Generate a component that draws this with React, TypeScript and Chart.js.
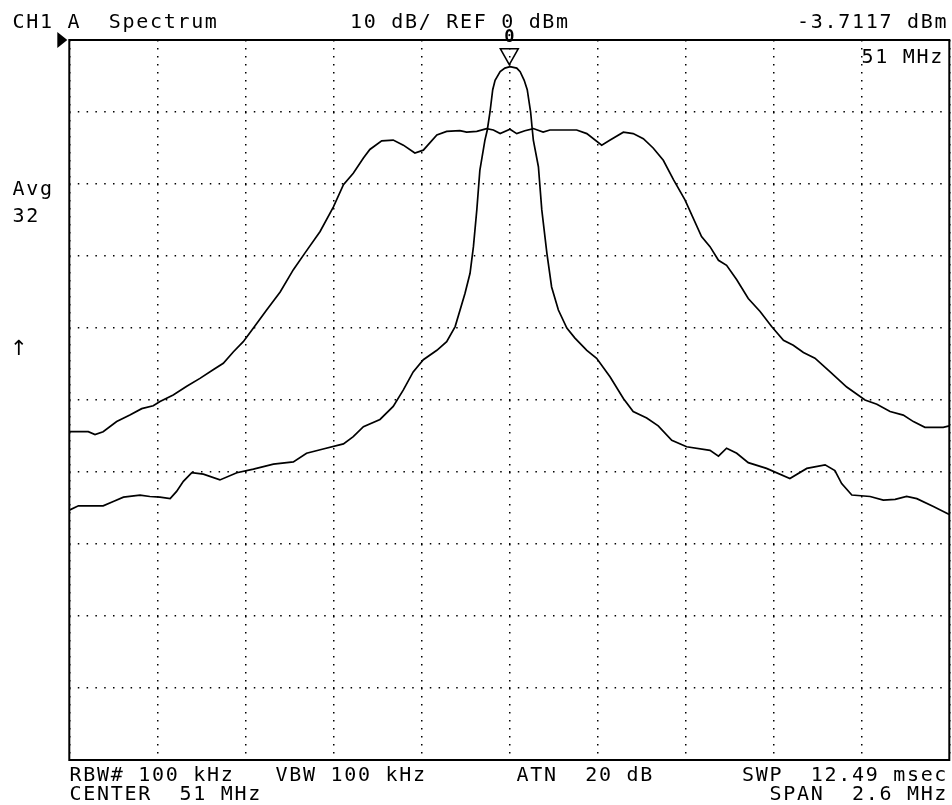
import React, { useEffect, useRef } from "react";
import { Chart, registerables } from "chart.js";

Chart.register(...registerables);

// ---- Instrument settings ----
const CENTER_MHZ = 51;
const SPAN_MHZ = 2.6;
const REF_DBM = 0;
const DB_PER_DIV = 10;
const DIVISIONS = 10;

// ---- Marker ----
const MARKER_MHZ = 51;
const MARKER_DBM = -3.7117;

// ---- Trace 1: wide (modulated) spectrum ----
const wideFreq = [
  49.7, 49.756, 49.776, 49.8, 49.84, 49.879, 49.914, 49.948, 49.968, 50.007,
  50.047, 50.086, 50.125, 50.155, 50.185, 50.214, 50.244, 50.283, 50.323, 50.362,
  50.396, 50.441, 50.48, 50.51, 50.539, 50.569, 50.588, 50.623, 50.657, 50.687,
  50.721, 50.746, 50.786, 50.815, 50.854, 50.874, 50.904, 50.933, 50.953, 50.973,
  51.002, 51.022, 51.046, 51.071, 51.1, 51.12, 51.199, 51.229, 51.273, 51.298,
  51.337, 51.366, 51.396, 51.425, 51.455, 51.485, 51.519, 51.568, 51.593, 51.618,
  51.642, 51.672, 51.706, 51.741, 51.775, 51.81, 51.839, 51.869, 51.903, 51.948,
  51.997, 52.051, 52.086, 52.125, 52.164, 52.194, 52.228, 52.282, 52.3,
];
const wideDbm = [
  -54.4, -54.4, -54.8, -54.4, -53.0, -52.1, -51.2, -50.8, -50.2, -49.3,
  -48.1, -47.0, -45.8, -44.9, -43.3, -41.9, -40.0, -37.5, -35.0, -31.9,
  -29.6, -26.6, -23.2, -20.1, -18.5, -16.4, -15.2, -14.0, -13.9, -14.6,
  -15.7, -15.3, -13.2, -12.7, -12.6, -12.8, -12.7, -12.3, -12.5, -13.0,
  -12.4, -13.0, -12.6, -12.3, -12.8, -12.5, -12.5, -13.0, -14.6, -13.9,
  -12.8, -13.0, -13.7, -15.0, -16.7, -19.4, -22.2, -27.3, -28.7, -30.6,
  -31.3, -33.3, -35.9, -37.7, -39.8, -41.7, -42.4, -43.4, -44.2, -46.1,
  -48.2, -50.0, -50.6, -51.6, -52.1, -53.0, -53.8, -53.8, -53.6,
];

// ---- Trace 2: narrow carrier ----
const narrowFreq = [
  49.7, 49.727, 49.8, 49.83, 49.86, 49.909, 49.938, 49.968, 49.998, 50.017,
  50.037, 50.062, 50.096, 50.145, 50.195, 50.244, 50.303, 50.362, 50.401, 50.45,
  50.51, 50.539, 50.569, 50.618, 50.657, 50.687, 50.716, 50.746, 50.786, 50.815,
  50.84, 50.869, 50.884, 50.894, 50.904, 50.913, 50.928, 50.935, 50.943, 50.951,
  50.958, 50.973, 50.987, 51.002, 51.022, 51.032, 51.044, 51.053, 51.063, 51.068,
  51.071, 51.086, 51.096, 51.111, 51.125, 51.145, 51.17, 51.194, 51.229, 51.258,
  51.298, 51.337, 51.366, 51.406, 51.44, 51.48, 51.524, 51.593, 51.618, 51.642,
  51.672, 51.706, 51.76, 51.829, 51.879, 51.933, 51.962, 51.982, 52.012, 52.066,
  52.105, 52.14, 52.174, 52.204, 52.253, 52.3,
];
const narrowDbm = [
  -65.3, -64.7, -64.7, -64.1, -63.5, -63.2, -63.4, -63.5, -63.7, -62.7,
  -61.3, -60.1, -60.3, -61.1, -60.1, -59.6, -58.9, -58.6, -57.4, -56.8,
  -56.1, -55.1, -53.7, -52.7, -50.9, -48.6, -46.1, -44.4, -43.1, -41.9,
  -39.8, -35.2, -32.4, -28.7, -23.6, -18.1, -13.9, -12.5, -10.0, -6.9,
  -5.6, -4.4, -3.9, -3.7, -3.9, -4.4, -5.6, -6.9, -10.0, -12.5,
  -13.9, -17.6, -23.6, -29.6, -34.3, -37.5, -40.0, -41.4, -43.1, -44.2,
  -46.8, -49.8, -51.6, -52.5, -53.6, -55.6, -56.5, -57.0, -57.8, -56.7,
  -57.4, -58.7, -59.5, -60.9, -59.5, -59.0, -59.8, -61.6, -63.2, -63.4,
  -63.9, -63.8, -63.4, -63.7, -64.8, -65.9,
];

// ---- Annotation texts ----
const headerLeft = "CH1 A  Spectrum";
const headerMid = "10 dB/ REF 0 dBm";
const headerRight = "-3.7117 dBm";
const markerFreqText = "51 MHz";
const avgLabel = "Avg";
const avgCount = "32";
const arrowLabel = "\u2191";
const footerLine1Left = "RBW# 100 kHz   VBW 100 kHz";
const footerLine1Mid = "ATN  20 dB";
const footerLine1Right = "SWP  12.49 msec";
const footerLine2Left = "CENTER  51 MHz";
const footerLine2Right = "  SPAN  2.6 MHz";
const markerNumber = "0";

const FONT = '20px "DejaVu Sans Mono", "Liberation Mono", monospace';

const overlayPlugin = {
  id: "saOverlay",
  afterDraw(chart: any) {
    const ctx = chart.ctx as CanvasRenderingContext2D;
    const { left, top, right, bottom } = chart.chartArea;
    const xs = chart.scales.x;
    const ys = chart.scales.y;
    ctx.save();
    // frame
    ctx.strokeStyle = "#000";
    ctx.lineWidth = 2;
    ctx.setLineDash([]);
    ctx.strokeRect(left, top, right - left, bottom - top);

    // reference level pointer
    ctx.fillStyle = "#000";
    ctx.beginPath();
    ctx.moveTo(left - 12, top - 8);
    ctx.lineTo(left - 2, top);
    ctx.lineTo(left - 12, top + 8);
    ctx.closePath();
    ctx.fill();

    // marker triangle
    const mx = xs.getPixelForValue(MARKER_MHZ);
    const my = ys.getPixelForValue(MARKER_DBM);
    ctx.lineWidth = 1.5;
    ctx.beginPath();
    ctx.moveTo(mx - 9, my - 18);
    ctx.lineTo(mx + 9, my - 18);
    ctx.lineTo(mx, my - 2);
    ctx.closePath();
    ctx.stroke();

    // texts
    ctx.fillStyle = "#000";
    ctx.font = FONT;
    (ctx as any).letterSpacing = "1.7px";
    ctx.textAlign = "left";
    ctx.textBaseline = "alphabetic";
    ctx.fillText(headerLeft, 12.5, 28);
    ctx.fillText(headerMid, 350, 28);
    ctx.fillText(headerRight, 797, 28);
    ctx.fillText(markerFreqText, 861.5, 63);
    ctx.fillText(avgLabel, 12.5, 195);
    ctx.fillText(avgCount, 12.5, 221.5);
    ctx.fillText(footerLine1Left, 69.5, 780.5);
    ctx.fillText(footerLine1Mid, 516.5, 780.5);
    ctx.fillText(footerLine1Right, 742, 780.5);
    ctx.fillText(footerLine2Left, 69.5, 800);
    ctx.fillText(footerLine2Right, 742, 800);

    (ctx as any).letterSpacing = "0px";
    ctx.font = '21px "DejaVu Sans", sans-serif';
    ctx.fillText(arrowLabel, 10, 355);

    // marker number
    ctx.font = 'bold 17px "DejaVu Sans Mono", monospace';
    ctx.textAlign = "center";
    ctx.fillText(markerNumber, mx, 42);
    ctx.restore();
  },
};

export default function App() {
  const ref = useRef<HTMLCanvasElement | null>(null);

  useEffect(() => {
    document.body.style.margin = "0";
    const canvas = ref.current;
    if (!canvas) return;
    const xMin = CENTER_MHZ - SPAN_MHZ / 2;
    const xMax = CENTER_MHZ + SPAN_MHZ / 2;
    const yMax = REF_DBM;
    const yMin = REF_DBM - DB_PER_DIV * DIVISIONS;

    const chart = new Chart(canvas, {
      type: "line",
      data: {
        datasets: [
          {
            label: "Wide",
            data: wideFreq.map((f, i) => ({ x: f, y: wideDbm[i] })),
            borderColor: "#000",
            borderWidth: 1.7,
            pointRadius: 0,
            tension: 0,
            fill: false,
          },
          {
            label: "Narrow",
            data: narrowFreq.map((f, i) => ({ x: f, y: narrowDbm[i] })),
            borderColor: "#000",
            borderWidth: 1.7,
            pointRadius: 0,
            tension: 0,
            fill: false,
          },
        ],
      },
      options: {
        animation: false,
        responsive: false,
        maintainAspectRatio: false,
        devicePixelRatio: 1,
        layout: { padding: { left: 69.3, top: 40, right: 2.7, bottom: 45 } },
        plugins: {
          legend: { display: false },
          tooltip: { enabled: false },
          title: { display: false },
        },
        scales: {
          x: {
            type: "linear",
            min: xMin,
            max: xMax,
            afterBuildTicks: (scale: any) => {
              scale.ticks = Array.from({ length: DIVISIONS + 1 }, (_, i) => ({
                value: xMin + (SPAN_MHZ / DIVISIONS) * i,
              }));
            },
            ticks: { display: false },
            grid: { color: "#000", lineWidth: 1.5, drawTicks: false },
            border: { display: false, dash: [1.5, 6.5] },
          },
          y: {
            type: "linear",
            min: yMin,
            max: yMax,
            afterBuildTicks: (scale: any) => {
              scale.ticks = Array.from({ length: DIVISIONS + 1 }, (_, i) => ({
                value: yMin + DB_PER_DIV * i,
              }));
            },
            ticks: { display: false },
            grid: { color: "#000", lineWidth: 1.5, drawTicks: false },
            border: { display: false, dash: [1.5, 7.3] },
          },
        },
      },
      plugins: [overlayPlugin],
    } as any);
    return () => chart.destroy();
  }, []);

  return (
    <div style={{ width: 952, height: 805, background: "#fff" }}>
      <canvas ref={ref} width={952} height={805} style={{ display: "block" }} />
    </div>
  );
}
